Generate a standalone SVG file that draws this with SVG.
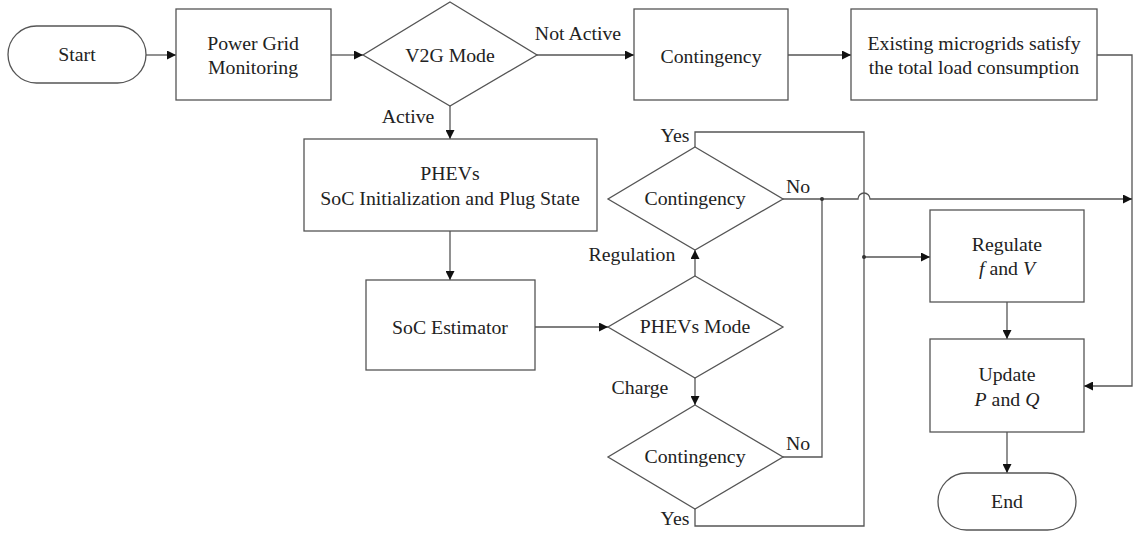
<svg xmlns="http://www.w3.org/2000/svg" width="1138" height="536" viewBox="0 0 1138 536">
<defs>
<style>
.s{fill:#fff;stroke:#555;stroke-width:1.3}
.c{fill:none;stroke:#555;stroke-width:1.3}
text{font-family:"Liberation Serif","Times New Roman",serif;font-size:19.8px;fill:#222;text-anchor:middle}
</style>
<marker id="a" viewBox="0 0 10 10" refX="10" refY="5" markerWidth="9" markerHeight="9" markerUnits="userSpaceOnUse" orient="auto">
<path d="M0,0L10,5L0,10z" fill="#111"/>
</marker>
</defs>
<rect width="1138" height="536" fill="#fff"/>
<g id="connectors">
<path class="c" d="M146,55H176" marker-end="url(#a)"/>
<path class="c" d="M331,55H363" marker-end="url(#a)"/>
<path class="c" d="M537,55H634" marker-end="url(#a)"/>
<path class="c" d="M788,55H851" marker-end="url(#a)"/>
<path class="c" d="M1097,55H1132V386H1084" marker-end="url(#a)"/>
<path class="c" d="M450,106V139" marker-end="url(#a)"/>
<path class="c" d="M450,231V280" marker-end="url(#a)"/>
<path class="c" d="M535,327H608" marker-end="url(#a)"/>
<path class="c" d="M695,276V250" marker-end="url(#a)"/>
<path class="c" d="M695,378V405" marker-end="url(#a)"/>
<path class="c" d="M695,147V132H864V526H695V509"/>
<path class="c" d="M783,199H858A6,6 0 0 1 870,199H1132" marker-end="url(#a)"/>
<path class="c" d="M822,199V457H783"/>
<path class="c" d="M864,257H930" marker-end="url(#a)"/>
<path class="c" d="M1007,302V339" marker-end="url(#a)"/>
<path class="c" d="M1007,432V473" marker-end="url(#a)"/>
<circle cx="822" cy="199" r="2" fill="#333"/>
<circle cx="864" cy="257" r="2" fill="#333"/>
<text x="578" y="40">Not Active</text>
<text x="408" y="123">Active</text>
<text x="675" y="142">Yes</text>
<text x="798" y="193">No</text>
<text x="632" y="261">Regulation</text>
<text x="640" y="394">Charge</text>
<text x="798" y="450">No</text>
<text x="675" y="525">Yes</text>
</g>
<g id="start"><rect class="s" x="8" y="26" width="138" height="57" rx="28.5"/><text x="77" y="61">Start</text></g>
<g id="monitoring"><rect class="s" x="176" y="9" width="155" height="91"/><text x="253" y="50">Power Grid</text><text x="253" y="74">Monitoring</text></g>
<g id="v2g"><polygon class="s" points="450,2 537,55 450,106 363,55"/><text x="450" y="62">V2G Mode</text></g>
<g id="contingency-box"><rect class="s" x="634" y="9" width="154" height="91"/><text x="711" y="63">Contingency</text></g>
<g id="microgrids"><rect class="s" x="851" y="9" width="246" height="91"/><text x="974" y="50">Existing microgrids satisfy</text><text x="974" y="74">the total load consumption</text></g>
<g id="phevs-init"><rect class="s" x="304" y="139" width="293" height="92"/><text x="450" y="180">PHEVs</text><text x="450" y="205">SoC Initialization and Plug State</text></g>
<g id="soc-estimator"><rect class="s" x="366" y="280" width="169" height="90"/><text x="450" y="334">SoC Estimator</text></g>
<g id="contingency1"><polygon class="s" points="695,147 783,199 695,250 608,199"/><text x="695" y="205">Contingency</text></g>
<g id="phevs-mode"><polygon class="s" points="695,276 783,327 695,378 608,327"/><text x="695" y="333">PHEVs Mode</text></g>
<g id="contingency2"><polygon class="s" points="695,405 783,457 695,509 608,457"/><text x="695" y="463">Contingency</text></g>
<g id="regulate"><rect class="s" x="930" y="210" width="154" height="92"/><text x="1007" y="251">Regulate</text><text x="1007" y="275"><tspan font-style="italic">f</tspan> and <tspan font-style="italic">V</tspan></text></g>
<g id="update"><rect class="s" x="930" y="339" width="154" height="93"/><text x="1007" y="381">Update</text><text x="1007" y="406"><tspan font-style="italic">P</tspan> and <tspan font-style="italic">Q</tspan></text></g>
<g id="end"><rect class="s" x="938" y="473" width="138" height="57" rx="28.5"/><text x="1007" y="508">End</text></g>
</svg>
